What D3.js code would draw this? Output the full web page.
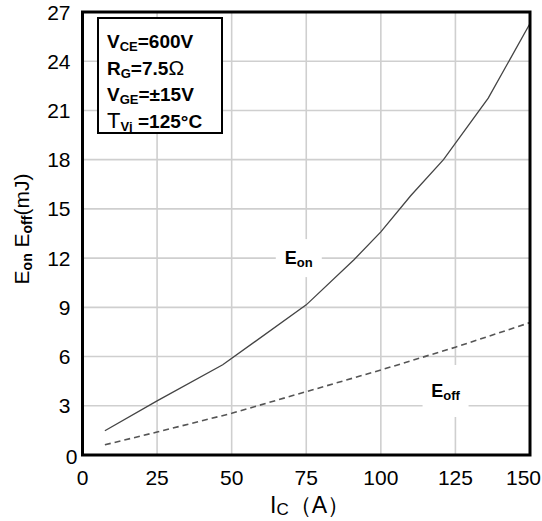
<!DOCTYPE html>
<html>
<head>
<meta charset="utf-8">
<script src="https://cdn.jsdelivr.net/npm/d3@7"></script>
<style>
	body { margin: 0; background: #fff; }
	text { font-family: "Liberation Sans", Arial, sans-serif; }
</style>
</head>
<body>
<script>
// Данные кривых Eon / Eoff (Ic в А, энергия в мДж)
var eonIc = [7.5, 25, 47, 75, 91, 100, 110, 121, 136, 150];
var eonE = [1.48, 3.3, 5.5, 9.15, 11.9, 13.6, 15.8, 18.0, 21.75, 26.3];
var eoffIc = [7.5, 25, 50, 75, 100, 125, 150];
var eoffE = [0.62, 1.4, 2.54, 3.86, 5.18, 6.57, 8.07];
var xTicks = [0, 25, 50, 75, 100, 125, 150];
var yTicks = [0, 3, 6, 9, 12, 15, 18, 21, 24, 27];

var svgWidth = 542, svgHeight = 521,
		plotLeft = 82.5, plotRight = 530, plotTop = 12, plotBottom = 455;

var svg = d3.select('body').append('svg')
	.attr('width', svgWidth)
	.attr('height', svgHeight)
	.style('display', 'block');

var x = d3.scaleLinear().domain([0, 150]).range([plotLeft, plotRight]);
var y = d3.scaleLinear().domain([0, 27]).range([plotBottom, plotTop]);

// сетка
svg.append('g').selectAll('line')
	.data(xTicks.slice(1, -1))
	.enter().append('line')
	.attr('x1', function(d) { return x(d); })
	.attr('x2', function(d) { return x(d); })
	.attr('y1', plotTop).attr('y2', plotBottom)
	.attr('stroke', '#cfcfcf').attr('stroke-width', 1.6);

svg.append('g').selectAll('line')
	.data(yTicks.slice(1, -1))
	.enter().append('line')
	.attr('y1', function(d) { return y(d); })
	.attr('y2', function(d) { return y(d); })
	.attr('x1', plotLeft).attr('x2', plotRight)
	.attr('stroke', '#cfcfcf').attr('stroke-width', 1.6);

// кривые
var line = d3.line()
	.x(function(d) { return x(d[0]); })
	.y(function(d) { return y(d[1]); });

svg.append('path')
	.datum(d3.zip(eonIc, eonE))
	.attr('d', line)
	.attr('fill', 'none')
	.attr('stroke', '#444')
	.attr('stroke-width', 1.3);

svg.append('path')
	.datum(d3.zip(eoffIc, eoffE))
	.attr('d', line)
	.attr('fill', 'none')
	.attr('stroke', '#555')
	.attr('stroke-width', 1.6)
	.attr('stroke-dasharray', '6,4');

// подписи кривых на белом фоне
function curveLabel(cx, cy, main, sub, w, h) {
	svg.append('rect')
		.attr('x', cx - w / 2).attr('y', cy - h / 2)
		.attr('width', w).attr('height', h)
		.attr('fill', '#fff');
	var t = svg.append('text')
		.attr('x', cx).attr('y', cy + 6)
		.attr('text-anchor', 'middle')
		.attr('font-size', 18).attr('font-weight', 'bold');
	t.append('tspan').text(main);
	t.append('tspan').attr('font-size', 13).attr('dy', 3).text(sub);
}
curveLabel(x(72.5), y(12), 'E', 'on', 46, 38);
curveLabel(x(121.7), y(3.9), 'E', 'off', 46, 52);

// рамка
svg.append('rect')
	.attr('x', plotLeft).attr('y', plotTop)
	.attr('width', plotRight - plotLeft).attr('height', plotBottom - plotTop)
	.attr('fill', 'none')
	.attr('stroke', '#000')
	.attr('stroke-width', 3);

// подписи осей
svg.append('g').selectAll('text')
	.data(yTicks)
	.enter().append('text')
	.attr('x', function(d) { return d === 0 ? plotLeft - 5 : plotLeft - 12; })
	.attr('y', function(d) { return d === 0 ? y(d) + 9 : y(d) + 7.5; })
	.attr('text-anchor', 'end')
	.attr('font-size', 21)
	.text(function(d) { return d; });

svg.append('g').selectAll('text')
	.data(xTicks)
	.enter().append('text')
	.attr('x', function(d) { return d === 150 ? svgWidth - 1 : x(d); })
	.attr('y', plotBottom + 30)
	.attr('text-anchor', function(d) { return d === 150 ? 'end' : 'middle'; })
	.attr('font-size', 21)
	.text(function(d) { return d; });

var xl = svg.append('text')
	.attr('x', 310)
	.attr('y', 513)
	.attr('text-anchor', 'middle')
	.attr('font-size', 23);
xl.append('tspan').text('I');
xl.append('tspan').attr('font-size', 17).attr('dy', 2).text('C');
xl.append('tspan').attr('dy', -2).text('（A）');

var yl = svg.append('text')
	.attr('transform', 'translate(29,' + 229 + ') rotate(-90)')
	.attr('text-anchor', 'middle')
	.attr('font-size', 21);
yl.append('tspan').text('E');
yl.append('tspan').attr('font-size', 14).attr('font-weight', 'bold').attr('dy', 3).text('on');
yl.append('tspan').attr('dy', -3).text(' E');
yl.append('tspan').attr('font-size', 14).attr('font-weight', 'bold').attr('dy', 3).text('off');
yl.append('tspan').attr('dy', -3).text('(mJ)');

// блок условий
svg.append('rect')
	.attr('x', 98).attr('y', 18)
	.attr('width', 124).attr('height', 115)
	.attr('fill', '#fff')
	.attr('stroke', '#000')
	.attr('stroke-width', 2);

var conds = [
	['V', 'CE', '=600V'],
	['R', 'G', '=7.5'],
	['V', 'GE', '=±15V'],
	['T', 'Vj', ' =125°C']
];
conds.forEach(function(c, i) {
	var t = svg.append('text')
		.attr('x', 107)
		.attr('y', 48 + i * 26.7)
		.attr('font-size', 19)
		.attr('font-weight', 'bold');
	var big = t.append('tspan').text(c[0]);
	if (i === 3) big.attr('font-weight', 'normal').attr('font-size', 22);
	t.append('tspan').attr('font-size', 13).attr('dy', 3).text(c[1]);
	t.append('tspan').attr('dy', -3).text(c[2]);
	if (i === 1) {
		t.append('tspan').attr('font-weight', 'normal').attr('font-size', 21).text('Ω');
	}
});
</script>
</body>
</html>
